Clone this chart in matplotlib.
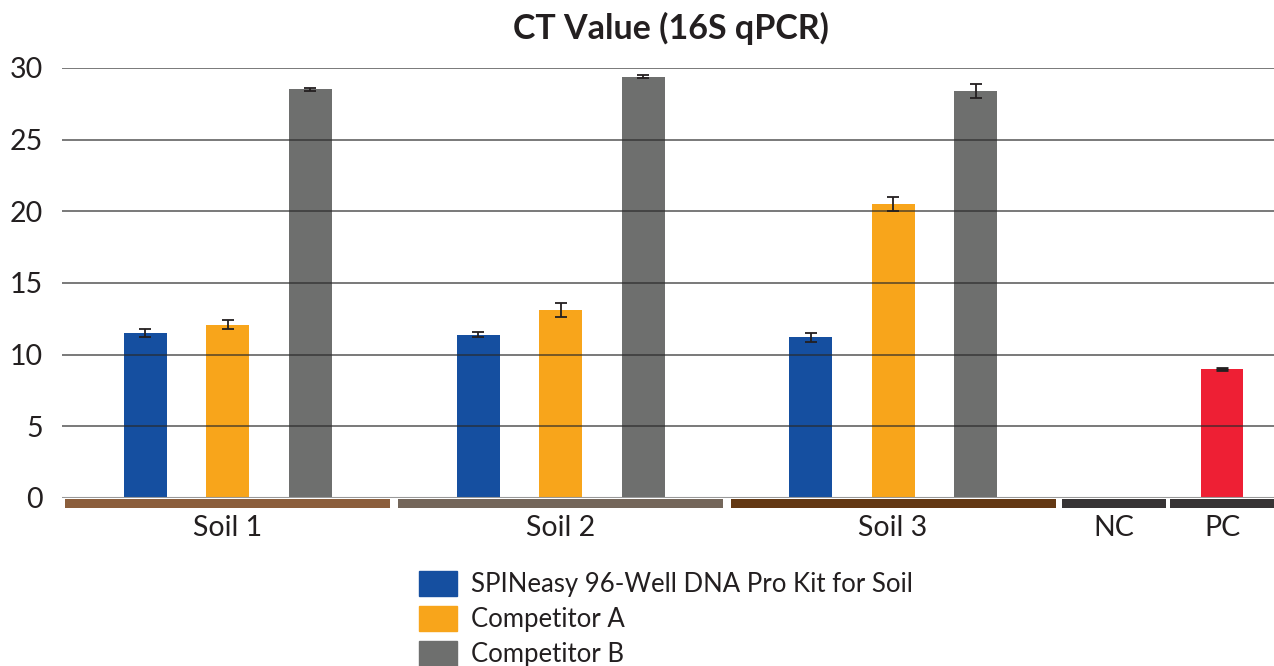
import matplotlib.pyplot as plt
from matplotlib.patches import Rectangle, Patch
import matplotlib.transforms as mtransforms

plt.rcParams['font.family'] = ['Lato', 'DejaVu Sans']

groups = ["Soil 1", "Soil 2", "Soil 3", "NC", "PC"]
series = ["SPINeasy 96-Well DNA Pro Kit for Soil", "Competitor A", "Competitor B"]
spineasy = [11.5, 11.4, 11.2]
comp_a = [12.1, 13.1, 20.5]
comp_b = [28.5, 29.4, 28.4]
spineasy_err = [0.3, 0.2, 0.3]
comp_a_err = [0.3, 0.5, 0.5]
comp_b_err = [0.1, 0.1, 0.5]
pc_value = [9.0]
pc_err = [0.05]

series_colors = ["#154FA0", "#F8A51B", "#6E6F6E"]
pc_color = "#EE1F34"
band_colors = ["#8B5E3C", "#74665A", "#633813", "#373435", "#373435"]

# group layout in "slot" units
centers = [2.01, 6.05, 10.08, 12.76, 14.07]
band_w = [3.94, 3.94, 3.94, 1.26, 1.26]
bar_w = 0.52

fig = plt.figure(figsize=(12.74, 6.66), dpi=100)
ax = fig.add_axes([0.0487, 0.2523, 0.9513, 0.6456])

soil_vals = [spineasy, comp_a, comp_b]
soil_errs = [spineasy_err, comp_a_err, comp_b_err]
for i, (vals, errs) in enumerate(zip(soil_vals, soil_errs)):
    xs = [centers[g] + (i - 1) for g in range(3)]
    ax.bar(xs, vals, width=bar_w, color=series_colors[i], zorder=2)
    ax.errorbar(xs, vals, yerr=errs, fmt='none', ecolor='#231F20',
                elinewidth=1.3, capsize=4, capthick=1.3, zorder=4)

ax.bar([centers[4]], pc_value, width=bar_w, color=pc_color, zorder=2)
ax.errorbar([centers[4]], pc_value, yerr=pc_err, fmt='none', ecolor='#231F20',
            elinewidth=1.3, capsize=4, capthick=2, zorder=4)

ax.set_xlim(0, 14.7)
ax.set_ylim(0, 30)
ax.set_yticks(range(0, 31, 5))
for y in range(5, 31, 5):
    ax.axhline(y, color='#2a2a2a', lw=1.1, alpha=0.8, zorder=3)
ax.axhline(0, color='#999999', lw=1.5, zorder=3)

# coloured bands under each group
trans = mtransforms.blended_transform_factory(ax.transData, ax.transAxes)
for c, w, col in zip(centers, band_w, band_colors):
    ax.add_patch(Rectangle((c - w / 2, -0.023), w, 0.021, transform=trans,
                           color=col, clip_on=False, lw=0))

for s in ax.spines.values():
    s.set_visible(False)
ax.set_xticks(centers)
ax.set_xticklabels(groups)
ax.tick_params(axis='both', length=0, labelsize=20.5, colors='#231F20')
ax.tick_params(axis='x', pad=12)
ax.tick_params(axis='y', pad=14)

fig.text(0.527, 0.958, "CT Value (16S qPCR)", ha='center', va='center',
         fontsize=24.5, fontweight='bold', color='#231F20')

handles = [Patch(color=c) for c in series_colors]
fig.legend(handles, series, loc='upper left', bbox_to_anchor=(0.3186, 0.162),
           frameon=False, fontsize=18.5, handlelength=1.5, handleheight=1.1,
           handletextpad=0.55, labelspacing=0.35, borderpad=0, labelcolor='#231F20')

fig.savefig("out.png", dpi=100)
